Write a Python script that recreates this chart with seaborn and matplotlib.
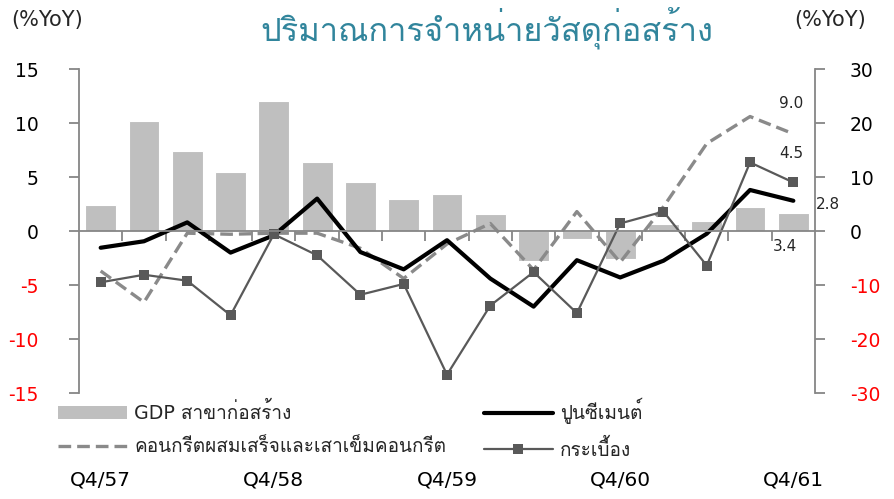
import numpy as np
import pandas as pd
import matplotlib
matplotlib.use("Agg")
import matplotlib.pyplot as plt
import matplotlib.transforms as mtransforms
from matplotlib import font_manager
from matplotlib.ft2font import FT2Font
from matplotlib.lines import Line2D
from matplotlib.patches import Patch
from matplotlib.ticker import FixedLocator, FuncFormatter
import seaborn as sns

# --- data ---
quarters = [
    "Q4/57", "Q1/58", "Q2/58", "Q3/58", "Q4/58", "Q1/59", "Q2/59", "Q3/59",
    "Q4/59", "Q1/60", "Q2/60", "Q3/60", "Q4/60", "Q1/61", "Q2/61", "Q3/61", "Q4/61",
]
gdp_construction = [4.9, 20.3, 14.9, 10.9, 24.1, 12.7, 9.1, 5.9, 6.9, 3.2,
                    -5.5, -1.4, -5.1, 1.3, 1.9, 4.5, 3.4]          # right axis
cement = [-1.55, -0.95, 0.8, -2.0, -0.4, 3.0, -1.95, -3.55, -0.85, -4.4,
          -7.0, -2.7, -4.3, -2.75, -0.25, 3.8, 2.8]
concrete = [-3.7, -6.6, -0.2, -0.3, -0.2, -0.2, -1.6, -4.4, -1.2, 0.7,
            -3.6, 1.8, -2.9, 2.25, 8.1, 10.6, 9.0]
tiles = [-4.75, -4.05, -4.6, -7.8, -0.3, -2.25, -5.9, -4.9, -13.3, -6.9,
         -3.8, -7.6, 0.7, 1.8, -3.2, 6.35, 4.5]

left_ticks = [-15, -10, -5, 0, 5, 10, 15]
right_ticks = [-30, -20, -10, 0, 10, 20, 30]
shown_quarters = ["Q4/57", "Q4/58", "Q4/59", "Q4/60", "Q4/61"]

title = "ปริมาณการจำหน่ายวัสดุก่อสร้าง"
unit_label = "(%YoY)"
names = ["GDP สาขาก่อสร้าง", "คอนกรีตผสมเสร็จและเสาเข็มคอนกรีต", "ปูนซีเมนต์", "กระเบื้อง"]


def find_thai_font():
    """Return the first installed family that has Thai glyphs, if any."""
    for f in font_manager.fontManager.ttflist:
        try:
            if FT2Font(f.fname).get_char_index(ord("ก")):
                return f.name
        except Exception:
            continue
    return None


sns.set_theme(style="white")
thai = find_thai_font()
# latin text in DejaVu, Thai falls through to the Thai-capable family
plt.rcParams["font.family"] = ["DejaVu Sans"] + ([thai] if thai else [])
plt.rcParams["axes.unicode_minus"] = False

df = pd.DataFrame({
    "pos": np.arange(len(quarters)),
    "quarter": quarters,
    "gdp": gdp_construction,
    "cement": cement,
    "concrete": concrete,
    "tiles": tiles,
})

GRID = "#868686"
BAR = "#BFBFBF"
DASH = "#8A8A8A"
TILE = "#595959"

fig = plt.figure(figsize=(8.95, 4.99), dpi=100)
ax = fig.add_axes([0.0883, 0.2124, 0.8223, 0.6493])
ax2 = ax.twinx()
ax.set_zorder(ax2.get_zorder() + 1)
ax.patch.set_visible(False)

# bars on the right-hand axis
sns.barplot(data=df, x="pos", y="gdp", ax=ax2, color=BAR, saturation=1,
            width=0.71, edgecolor="white", linewidth=0.8)

# lines on the left-hand axis
sns.lineplot(data=df, x="pos", y="concrete", ax=ax, color=DASH, lw=2.4)
ax.lines[-1].set_dashes((3.8, 1.8))
sns.lineplot(data=df, x="pos", y="cement", ax=ax, color="black", lw=3.0)
sns.lineplot(data=df, x="pos", y="tiles", ax=ax, color=TILE, lw=1.6,
             marker="s", markersize=7, markeredgewidth=0)

n = len(quarters)
for a in (ax, ax2):
    a.set_xlim(-0.5, n - 0.5)
    a.set_xlabel("")
    a.set_ylabel("")
    a.grid(False)
ax.set_ylim(-15, 15)
ax2.set_ylim(-30, 30)
ax.set_yticks(left_ticks)
ax2.set_yticks(right_ticks)
fmt = FuncFormatter(lambda v, p: f"{v:.0f}")
ax.yaxis.set_major_formatter(fmt)
ax2.yaxis.set_major_formatter(fmt)

# spines: left/right axes, category axis sitting on zero
for a in (ax, ax2):
    for s in a.spines.values():
        s.set_visible(False)
ax.spines["left"].set_visible(True)
ax2.spines["right"].set_visible(True)
ax.spines["bottom"].set_visible(True)
ax.spines["bottom"].set_position(("data", 0))
for s in (ax.spines["left"], ax2.spines["right"], ax.spines["bottom"]):
    s.set_color(GRID)
    s.set_linewidth(1.3)

ax.set_xticks([])
ax2.set_xticks([])
ax.xaxis.set_minor_locator(FixedLocator(np.arange(0.5, n - 1, 1)))
ax.tick_params(axis="x", which="minor", direction="out", length=7,
               width=1.3, color=GRID, bottom=True)
ax.tick_params(axis="y", direction="out", length=7, width=1.3, color=GRID,
               pad=22, labelsize=13.5, left=True)
ax2.tick_params(axis="y", direction="out", length=7, width=1.3, color=GRID,
                pad=18, labelsize=13.5, right=True)

for a, ticks in ((ax, left_ticks), (ax2, right_ticks)):
    for lab, v in zip(a.get_yticklabels(), ticks):
        lab.set_color("#FF0000" if v < 0 else "black")

# category labels below the legend
trans = mtransforms.blended_transform_factory(ax.transData, fig.transFigure)
for q in shown_quarters:
    ax.text(quarters.index(q), 0.038, q, transform=trans, ha="center",
            va="center", fontsize=14.5, color="black")

# data labels on the last quarter
last = n - 1
ax.annotate(f"{concrete[-1]:.1f}", (last, concrete[-1]), xytext=(-1.5, 21.5),
            textcoords="offset points", ha="center", va="center", fontsize=11)
ax.annotate(f"{tiles[-1]:.1f}", (last, tiles[-1]), xytext=(-1.5, 20.5),
            textcoords="offset points", ha="center", va="center", fontsize=11)
ax.annotate(f"{cement[-1]:.1f}", (last, cement[-1]), xytext=(25, -3),
            textcoords="offset points", ha="center", va="center", fontsize=11)
ax2.annotate(f"{gdp_construction[-1]:.1f}", (last, gdp_construction[-1]),
             xytext=(-6, -24.5), textcoords="offset points", ha="center",
             va="center", fontsize=11)

# titles
fig.text(0.544, 0.944, title, color="#31859C", fontsize=23.5, ha="center", va="center")
fig.text(47 / 895, 1 - 20 / 499, unit_label, fontsize=15, ha="center", va="center")
fig.text(830 / 895, 1 - 20 / 499, unit_label, fontsize=15, ha="center", va="center")

# legend
handles = [
    Patch(facecolor=BAR, edgecolor="none"),
    Line2D([], [], color=DASH, lw=2.4, dashes=(3.8, 1.8)),
    Line2D([], [], color="black", lw=3.0),
    Line2D([], [], color=TILE, lw=1.6, marker="s", markersize=7, markeredgewidth=0),
]
fig.legend(handles, names, ncol=2, loc="upper left",
           bbox_to_anchor=(58 / 895, 1 - 398 / 499), frameon=False,
           fontsize=13.7, handlelength=3.6, handletextpad=0.4,
           columnspacing=2.0, labelspacing=0.75, borderpad=0, borderaxespad=0)

fig.savefig("out.png", dpi=100)
